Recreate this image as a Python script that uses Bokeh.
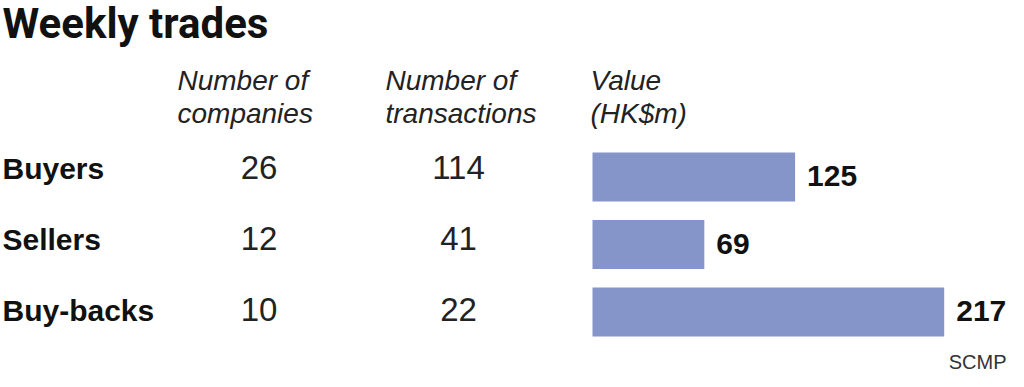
from bokeh.plotting import figure
from bokeh.models import Range1d, ColumnDataSource
from bokeh.core.properties import value
from bokeh.embed import file_html
from bokeh.resources import INLINE

# ---- data ----
title = "Weekly trades"
categories = ["Buyers", "Sellers", "Buy-backs"]
companies = [26, 12, 10]
transactions = [114, 41, 22]
values_hkm = [125, 69, 217]
headers = ["Number of\ncompanies", "Number of\ntransactions", "Value\n(HK$m)"]
source_note = "SCMP"

# ---- layout (pixels in frame coords, y downward) ----
W, H = 1008, 371
bar_left_px = 592
px_per_unit = 1.6207
row_center0, row_step = 176.5, 67.5
bar_height = 49
BL = 0.4  # empirical shift of the alphabetic baseline (fraction of font size)


def base(y, size):
    return y - BL * size


FONT = "Liberation Sans"
TFONT = "Roboto"
NUMFONT = "'Liberation Sans Narrow', 'Liberation Sans'"
INK = "#111111"
BAR = "#8594c9"

p = figure(width=W, height=H, output_backend="svg", toolbar_location=None,
           x_range=Range1d(0, W), y_range=Range1d(H, 0), min_border=0)
p.axis.visible = False
p.grid.visible = False
p.outline_line_color = None
p.background_fill_color = "white"

p.extra_x_ranges = {"val": Range1d(-bar_left_px / px_per_unit,
                                   (W - bar_left_px) / px_per_unit)}

n = len(categories)
bar_y = [row_center0 + i * row_step for i in range(n)]
lab_y = [base(179.5 + i * 71, 30) for i in range(n)]
num_y = [base(180 + i * 71, 33) for i in range(n)]

src = ColumnDataSource(dict(cat=categories,
                            comp=[str(v) for v in companies],
                            trans=[str(v) for v in transactions],
                            val=values_hkm,
                            vlab=[str(v) for v in values_hkm],
                            bar_y=bar_y, lab_y=lab_y, num_y=num_y))

# title
p.text(x=[2], y=[base(40, 42)], text=[title], text_font=value(TFONT), text_font_style="bold",
       text_font_size="42px", text_color=INK, text_baseline="alphabetic")

# headers
hx = [177, 385, 590]
for x, h in zip(hx, headers):
    l1, l2 = h.split("\n")
    p.text(x=[x, x], y=[base(91, 28), base(124, 28)], text=[l1, l2], text_font=value(FONT),
           text_font_style="italic", text_font_size="28px", text_color="#222222",
           text_baseline="alphabetic", text_align="left")

# row labels
p.text(x=2, y="lab_y", text="cat", source=src, text_font=value(FONT),
       text_font_style="bold", text_font_size="30px", text_color=INK,
       text_baseline="alphabetic")

# numbers
p.text(x=258.5, y="num_y", text="comp", source=src, text_font=value(NUMFONT),
       text_font_size="33px", text_color="#222222", text_align="center",
       text_baseline="alphabetic")
p.text(x=458, y="num_y", text="trans", source=src, text_font=value(NUMFONT),
       text_font_size="33px", text_color="#222222", text_align="center",
       text_baseline="alphabetic")

# bars
p.hbar(y="bar_y", left=0, right="val", height=bar_height, source=src,
       x_range_name="val", fill_color=BAR, line_color=None)
p.text(x="val", y="bar_y", text="vlab", source=src, x_range_name="val",
       x_offset=12, y_offset=11 - BL * 30, text_font=value(FONT), text_font_style="bold",
       text_font_size="30px", text_color=INK, text_baseline="alphabetic")

# source
p.text(x=[1006], y=[base(369, 20)], text=[source_note], text_font=value(FONT),
       text_font_size="20px", text_color="#333333", text_align="right",
       text_baseline="alphabetic")

open("out.html", "w").write(file_html(p, INLINE))
